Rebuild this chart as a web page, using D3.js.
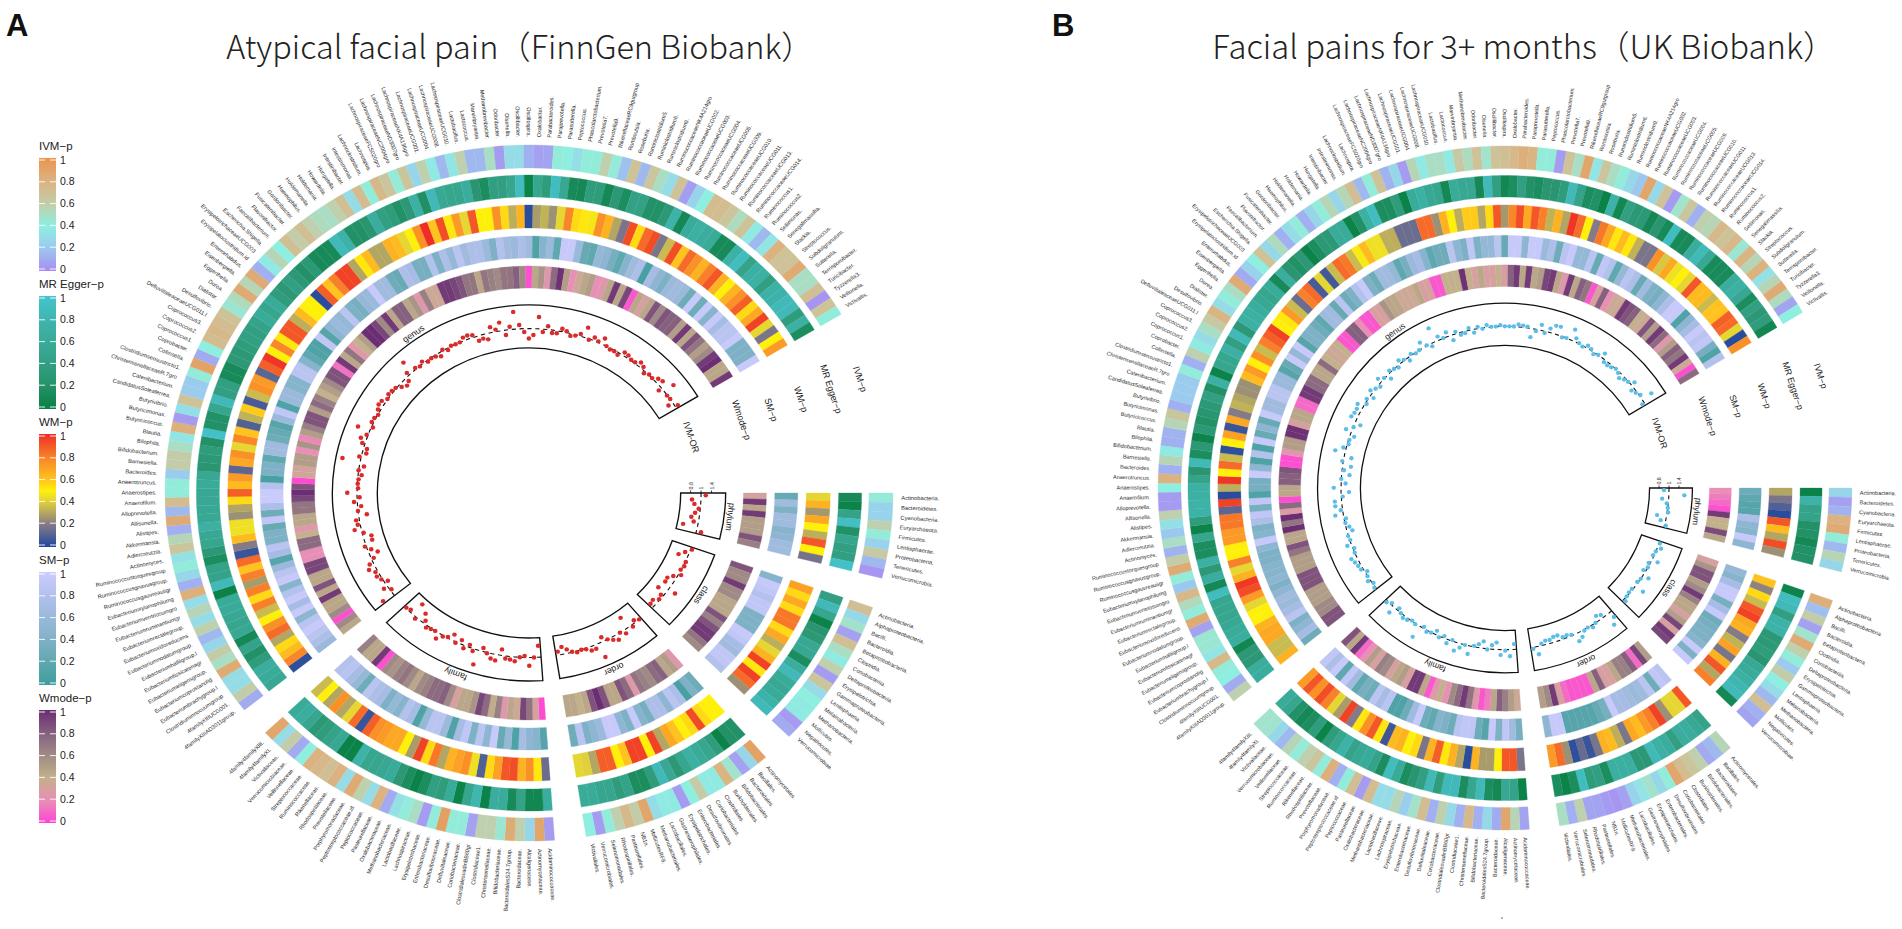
<!DOCTYPE html>
<html><head><meta charset="utf-8">
<script src="https://cdnjs.cloudflare.com/ajax/libs/d3/7.8.5/d3.min.js"></script>
<style>html,body{margin:0;padding:0;background:#fff}svg{display:block}text{font-family:"Liberation Sans",Arial,sans-serif}</style>
</head><body><svg id="c" width="1902" height="929"></svg>
<script>
const phylumNames=["Actinobacteria.","Bacteroidetes.","Cyanobacteria.","Euryarchaeota.","Firmicutes.","Lentisphaerae.","Proteobacteria.","Tenericutes.","Verrucomicrobia."];
const classNames=["Actinobacteria.","Alphaproteobacteria.","Bacilli.","Bacteroidia.","Betaproteobacteria.","Clostridia.","Coriobacteriia.","Deltaproteobacteria.","Erysipelotrichia.","Gammaproteobacteria.","Lentisphaeria.","Melainabacteria.","Methanobacteria.","Mollicutes.","Negativicutes.","Verrucomicrobiae."];
const orderNames=["Actinomycetales.","Bacillales.","Bacteroidales.","Bifidobacteriales.","Burkholderiales.","Clostridiales.","Coriobacteriales.","Desulfovibrionales.","Enterobacteriales.","Erysipelotrichales.","Gastranaerophilales.","Lactobacillales.","Methanobacteriales.","MollicutesRF9.","NB1n.","Pasteurellales.","Rhodospirillales.","Selenomonadales.","Verrucomicrobiales.","Victivallales."];
const familyNames=["Acidaminococcaceae.","Actinomycetaceae.","Alcaligenaceae.","Bacteroidaceae.","BacteroidalesS24.7group.","Bifidobacteriaceae.","Christensenellaceae.","Clostridiaceae1.","ClostridialesvadinBB60gr","Coriobacteriaceae.","Defluviitaleaceae.","Desulfovibrionaceae.","Enterobacteriaceae.","Erysipelotrichaceae.","Lachnospiraceae.","Lactobacillaceae.","Methanobacteriaceae.","Oxalobacteraceae.","Pasteurellaceae.","Peptococcaceae.","Peptostreptococcaceae.id","Porphyromonadaceae.","Prevotellaceae.","Rhodospirillaceae.","Rikenellaceae.","Ruminococcaceae.","Streptococcaceae.","Veillonellaceae.","Verrucomicrobiaceae.","Victivallaceae.","4family4familyXI.","4family4familyXIII."];
const genusNames=["4familyXIIIAD3011group.","4familyXIIIUCG001.","Clostridiuminnocuumgroup","Eubacteriumbrachygroup.l","Eubacteriumcoprostanolig","Eubacteriumeligensgroup.","Eubacteriumfissicatenagr","Eubacteriumhalliigroup.l","Eubacteriumnodatumgroup.","Eubacteriumoxidoreducens","Eubacteriumrectalegroup.","Eubacteriumruminantiumgr","Eubacteriumventriosumgro","Eubacteriumxylanophilumg","Ruminococcusgauvreauiigr","Ruminococcusgnavusgroup.","Ruminococcustorquesgroup","Actinomyces.","Adlercreutzia.","Akkermansia.","Alistipes.","Allisonella.","Alloprevotella.","Anaerofilum.","Anaerostipes.","Anaerotruncus.","Bacteroides.","Barnesiella.","Bifidobacterium.","Bilophila.","Blautia.","Butyricicoccus.","Butyricimonas.","Butyrivibrio.","CandidatusSoleaferrea.","Catenibacterium.","ChristensenellaceaeR.7gro","Clostridiumsensustricto1.","Collinsella.","Coprobacter.","Coprococcus1.","Coprococcus2.","Coprococcus3.","DefluviitaleaceaeUCG011.l","Desulfovibrio.","Dialister.","Dorea.","Eggerthella.","Eisenbergiella.","Enterorhabdus.","Erysipelatoclostridium.id","ErysipelotrichaceaeUCG003","Escherichia.Shigella.","Faecalibacterium.","Flavonifractor.","Fusicatenibacter.","Gordonibacter.","Haemophilus.","Holdemanella.","Holdemania.","Howardella.","Hungatella.","Intestinibacter.","Intestinimonas.","Lachnoclostridium.","Lachnospira.","LachnospiraceaeFCS020gro","LachnospiraceaeNC2004gro","LachnospiraceaeND3007gro","LachnospiraceaeNK4A136gro","LachnospiraceaeUCG001.","LachnospiraceaeUCG004.","LachnospiraceaeUCG008.","LachnospiraceaeUCG010.","Lactobacillus.","Lactococcus.","Marvinbryantia.","Methanobrevibacter.","Odoribacter.","Olsenella.","Oscillibacter.","Oscillospira.","Oxalobacter.","Parabacteroides.","Paraprevotella.","Parasutterella.","Peptococcus.","Phascolarctobacterium.","Prevotella7.","Prevotella9.","RikenellaceaeRC9gutgroup","Romboutsia.","Roseburia.","Ruminiclostridium5.","Ruminiclostridium6.","Ruminiclostridium9.","RuminococcaceaeNK4A214gro","RuminococcaceaeUCG002.","RuminococcaceaeUCG003.","RuminococcaceaeUCG004.","RuminococcaceaeUCG005.","RuminococcaceaeUCG009.","RuminococcaceaeUCG010.","RuminococcaceaeUCG011.","RuminococcaceaeUCG013.","RuminococcaceaeUCG014.","Ruminococcus1.","Ruminococcus2.","Sellimonas.","Senegalimassilia.","Slackia.","Streptococcus.","Subdoligranulum.","Sutterella.","Terrisporobacter.","Turicibacter.","Tyzzerella3.","Veillonella.","Victivallis."];
const sectorLabels=["phylum","class","order","family","genus"];
const ringLabels=["IVM-OR","Wmode−p","SM−p","WM−p","MR Egger−p","IVM−p"];
const legendTitles=["IVM−p","MR Egger−p","WM−p","SM−p","Wmode−p"];
const legendTicks=[0,0.2,0.4,0.6,0.8,1];
const orTicks=[0.8,1,1.4];
const titleA="Atypical facial pain（FinnGen Biobank）";
const titleB="Facial pains for 3+ months（UK Biobank）";

// every ring: phylum / class / order / family / genus, reading clockwise
const ivmA=[.43,.25,.25,.58,.42,.25,.62,.15,.03,
.7,.28,.48,.07,.7,.5,.38,.58,.05,.65,.3,.4,.38,.38,.05,.1,
.9,.27,.07,.47,.78,.38,.38,.6,.4,.05,.38,.38,.3,.88,.6,.75,.58,.42,.05,.4,
.05,.88,.27,.58,.85,.45,.58,.58,.07,.42,.42,.92,.42,.05,.5,.42,.33,.1,.8,.3,.58,.85,.3,.8,.7,.75,.8,.4,.1,.6,.3,.88,
.1,.6,.3,.3,.85,.5,.6,.27,.15,.58,
.3,.55,.3,.82,.12,.28,.42,.33,.65,.55,
.12,.85,.15,.72,.42,.42,.22,.6,.6,.5,
.35,.82,.05,.32,.68,.22,.22,.42,.9,.1,
.4,.72,.75,.72,.68,.45,.52,.85,.55,.85,
.12,.37,.55,.4,.7,.6,.7,.58,.52,.5,
.58,.7,.3,.72,.42,.75,.65,.43,.65,.27,
.58,.37,.15,.35,.58,.15,.15,.5,.05,.3,
.3,.12,.07,.08,.42,.4,.32,.42,.42,.58,
.43,.18,.68,.15,.65,.5,.3,.68,.06,.25,
.4,.72,.72,.65,.52,.68,.37,.15,.35,.8,
.68,.68,.85,.5,.5,.7,.03,.68,.42];
const eggerA=[.12,.03,.45,.92,.2,.5,.4,.4,.95,
.4,.85,.5,.03,.25,.3,.55,.55,.15,.65,.85,.6,.55,.6,.75,.85,
.2,.2,.02,.35,.5,.6,.7,.5,.3,.55,.85,.35,.15,.15,.45,.35,.5,.5,.6,.6,
.65,.08,.08,.45,.12,.6,.65,.02,.8,.5,.03,.6,.35,.4,.15,.02,.15,.3,.6,.55,.5,.5,.75,.02,.02,.55,.45,.35,.3,.5,.65,.6,
.55,.6,.65,.35,.2,.45,.1,.55,.5,.55,
.6,.6,.02,.85,.45,.45,.15,.3,.5,.55,
.7,.55,.55,.55,.55,.6,.55,.25,.3,.35,
.2,.95,.2,.2,.5,.85,.4,.4,.12,.12,
.3,.3,.35,.4,.4,.45,.6,.5,.6,.35,
.3,.4,.3,.2,.3,.12,.12,.12,.85,.75,
.2,.2,.25,.65,.4,.35,.2,.3,.7,.18,
.85,.55,.5,.5,.65,.25,.15,.38,.4,.5,
.9,.03,.5,.35,.9,.55,.12,.1,.35,.35,
.1,.3,.15,.42,.42,.2,.2,.3,.75,.1,
.6,.7,.65,.6,.12,.12,.72,.9,.45,.7,
.7,.4,.72,.75,.85,.85,.35,.7,.15];
const wmA=[.42,.65,.27,.68,.5,.32,.9,.5,.17,
.7,.55,.68,.55,.82,.82,.55,.68,.32,.42,.65,.95,.52,.95,.85,.25,
.5,.5,.55,.93,.55,.5,.6,.68,.3,.95,.5,.95,.95,.6,.5,.88,.88,.3,.4,.42,
.15,.52,.75,.65,.92,.9,.7,.55,.1,.45,.75,.7,.65,.3,.82,.55,.95,.28,.5,.68,.68,.72,.75,.88,.05,.85,.42,.3,.75,.3,.5,.35,
.03,.78,.62,.55,.3,.85,.75,.5,.35,.8,
.55,.8,.28,.8,.6,.85,.05,.2,.62,.45,
.45,.25,.3,.55,.88,.62,.72,.12,.68,.75,
.42,.78,.6,.1,.33,.58,.08,.35,.75,.72,
.12,.88,.98,.5,.78,.52,.9,.9,.32,.62,
.5,.5,.02,.88,.6,.8,.95,.95,.3,.52,
.62,.3,.3,.65,.62,.42,.5,.75,1,.6,
.92,.52,.72,.42,.9,.5,.5,.75,.55,.32,
.65,.02,.28,.33,.25,.42,.78,.55,.52,.47,
.75,.65,.3,.18,.92,.55,.85,.92,.18,.35,
.92,.6,.85,.75,.65,.8,.9,.65,.5,.65,
.75,.88,.55,.68,.95,.42,.18,.5,.72];
const smA=[.25,.65,.4,.65,.65,.45,.5,.65,.65,
.45,.95,.9,.8,.9,.9,.4,.4,.4,.95,.9,.7,.65,.9,.9,.8,
.3,.4,.05,.75,.85,.5,.75,.75,.35,.45,.95,.4,.5,.95,.95,.6,.5,.4,.85,.3,
.15,.45,.5,.7,.08,.55,.25,.95,.5,.85,.4,.9,.7,.1,.6,.85,.85,.55,.1,.7,.8,.45,.55,.4,.7,.75,.85,.3,.55,.7,.85,.8,
.6,.75,.85,.95,.85,.5,.95,.7,.95,.8,
.45,.95,.85,.6,.15,.7,.85,.4,.4,.25,
.9,.3,.75,.98,.98,.8,.05,.4,.4,.2,
.65,.65,.3,.25,.15,.6,.9,.1,.6,.6,
.45,.45,.85,.85,.45,.2,.1,.1,.9,.15,
.5,.6,.55,.85,.4,.35,.55,.6,.95,.65,
.65,.3,.25,.75,.7,.35,.35,.8,.4,.75,
.55,.85,.65,.75,.75,.6,.4,.8,.65,.6,
.75,.65,.1,.45,.6,.2,.95,.95,.6,.25,
.2,.55,.5,.35,.2,.45,.65,.75,.05,.7,
.5,.4,.6,.65,.6,.3,.95,.3,.95,.45,
.95,.7,.85,.85,.95,.4,.4,.4,.95];
const wmodeA=[.32,.95,.45,.95,.5,.5,.5,.85,.65,
.85,.6,.6,.95,.6,.6,.45,.45,.45,.85,.65,.85,.95,.95,.7,.6,
.25,.5,.45,.8,.75,.6,.65,.7,.25,.75,.85,.45,.45,.85,1,.85,.45,.4,.45,.45,
.02,.3,.7,.9,.35,.45,.25,.65,.42,.75,.9,.55,.45,.45,.3,.6,.8,.75,.75,.65,.6,.45,.6,.7,.65,.55,.6,.03,.95,.45,.45,.65,
.45,.6,.03,.6,.45,.45,.95,.45,.85,.45,
.45,.9,.9,.2,.2,.75,.75,.4,.25,.45,
.45,.7,.7,.9,1,.85,.02,.33,.33,.5,
.5,.2,.55,.18,.5,.65,.85,.85,.5,.75,
.65,.4,.5,.6,.85,.85,.12,.95,.45,.7,
.25,.4,.5,1,1,.9,.6,.95,.45,.8,
.8,.45,.55,.25,.65,.35,.35,.95,.95,.9,
.85,.7,.7,.45,.7,.65,.6,.7,.7,.8,
.6,.03,.45,.55,.25,.75,.98,.5,.2,.35,
.45,.5,.2,.25,.45,.95,.45,.9,.05,.45,
.3,.45,.85,.6,.85,.8,.8,.5,.95,.45,
.85,.7,.5,.6,.95,1,.45,.45,.95];
const orA=[1.18,.83,.88,.97,.91,.85,.91,.72,1.18,
1.05,.92,.82,1.02,1.04,.99,1.1,.93,.85,.86,1.3,.82,.95,.98,.9,.92,
1.0,.95,1.08,.76,1.15,1.0,1.22,1.12,1.0,.91,1.6,1.16,1.16,1.04,1.0,1.05,.99,.92,.85,.93,
.77,1,1.33,.97,1,1.17,1.12,1.1,.88,1.24,1.2,1.03,.93,1.6,1.1,.95,1.12,.92,1.04,.88,.98,1.04,1.24,1,1.03,1.09,.94,.83,1.07,.73,.96,.99,
1.48,.97,1.16,.93,1.04,1.13,1.09,1.27,1.15,.95,
.83,.93,1.05,.85,.84,.97,1.25,1.09,1.12,.84,
1.0,.93,1.12,.95,1.37,.98,.99,.98,.93,1.0,
.91,1.69,1.07,.92,.93,1.1,1.22,1.05,1.48,.97,
1.07,1.05,.99,1.09,1.17,1.15,1.01,1.09,1.07,1.03,
.94,.88,.92,1.12,1.51,1.05,.99,1.08,.97,.99,
.97,.92,1.04,.96,1.02,1.0,1.0,1.13,1.15,1.09,
.9,.92,.88,1.22,1.08,1.33,.9,1.11,1.69,1.15,
.93,.8,.87,1.47,.94,1.13,.94,.95,1.11,1.05,
.95,.98,1.08,1.41,.98,1.13,1.04,1.25,1.0,.97,
.98,.95,1.13,1.11,1.03,1.04,1.17,1.1,.96,1.02,
1.0,1.15,1.21,.93,1.43,.99,1.0,.9,1.11];

const ivmB=[.27,.07,.13,.8,.85,.42,.15,.55,.27,
.82,.17,.6,.07,.47,.85,.58,.42,.22,.6,.4,.3,.15,.7,.12,.08,
.55,.15,.1,.58,.65,.72,.88,.42,.27,.48,.35,.25,.07,.03,.05,.08,.08,.58,.12,.5,
.08,.55,.88,.1,.28,.12,.75,.12,.28,.58,.12,.72,.48,.23,.55,.3,.3,.72,.05,.7,.42,.12,.82,.42,.65,.58,.42,.55,.15,.28,.47,.47,
.58,.1,.4,.42,.75,.35,.45,.45,.07,.85,
.42,.52,.75,.2,.42,.85,.6,.13,.5,.2,
.32,.58,.05,.05,.4,.8,.12,.55,.37,.12,
.13,.55,.65,.12,.22,.22,.22,.42,.12,.58,
.38,.3,.5,.62,.78,.3,.42,.5,.85,.1,
.25,.4,.68,.28,.52,.12,.3,.42,.12,.27,
.42,.55,.27,.55,.7,.15,.42,.68,.13,.27,
.05,.55,.37,.5,.5,.37,.62,.52,.68,.47,
.68,.7,.75,.82,.78,.42,.42,.05,.68,.5,
.88,.35,.65,.5,.42,.28,.2,.88,.28,.68,
.05,.47,.65,.12,.58,.55,.75,.68,.75,.45,
.78,.55,.8,.33,.55,.85,.52,.08,.4];
const eggerB=[.02,.75,.45,.45,.2,.2,.1,.2,.2,
.05,.9,.85,.4,.75,.75,.3,.3,.35,.25,.55,.6,.7,.8,.85,.1,
.45,.55,.65,.65,.4,.65,.7,.85,.3,.3,.68,.68,.68,.15,.4,.35,.9,.15,.03,.15,
.02,.45,.55,.1,.15,.85,.5,.15,.85,.85,.35,.85,.4,.25,.15,.6,.9,.15,.45,.6,.55,.45,.75,.5,.35,.03,.35,.15,.1,.2,.5,.6,
.65,.65,.3,.3,.08,.65,.6,.55,.5,.5,
.5,.9,.1,.65,.3,.7,.15,.15,.5,.03,
.35,.75,.75,.7,.7,.45,.25,.85,.15,.3,
.05,.3,.2,.25,.3,.4,.2,.7,.03,.5,
.5,.7,.4,.85,.3,.7,.7,.65,.55,.5,
.6,.12,.65,.25,.2,.3,.03,.15,.3,.3,
.6,.6,.03,.2,.7,.9,.15,.15,.35,.02,
.6,.7,.55,.5,.1,.6,.55,.55,.1,.85,
.4,.08,.15,.4,.2,.15,.25,.25,.35,.85,
.45,.15,.2,.02,.75,.08,.4,.3,.3,.1,
.25,.12,.9,.12,.12,.65,.85,.55,.13,.13,
.13,.65,.7,.55,.15,.4,.3,.35,.08];
const wmB=[.3,.18,.1,.02,.9,.62,.3,.92,.25,
.6,.22,.55,.35,.9,.95,.68,.65,.2,.33,.7,.18,.65,.9,.3,.8,
.9,.42,.42,.25,.95,.8,.72,.62,.68,.18,.32,.62,.65,.18,.05,.14,.03,.25,.85,.72,
.18,.9,.9,.5,.28,.28,.65,.02,.3,.65,.52,.88,.65,.18,.55,.5,.65,.62,.06,.52,.9,.75,.52,.2,.95,.28,.42,.8,.92,.75,.9,.72,
.65,.35,.35,.68,.68,.65,.5,.5,.42,.72,
.92,.97,.65,.42,.8,.5,.5,.72,.72,.82,
.82,.12,.95,.02,.32,.98,.5,.85,.35,.03,
.5,.7,.05,.68,.2,.33,.3,.25,.25,.62,
.72,.5,.75,.35,.8,.88,.95,.5,.52,.72,
.35,.15,.8,.85,.08,.42,.07,.35,.85,.82,
.35,.48,.62,.45,.45,.32,.32,.15,.15,.15,
.85,.85,.25,.65,.5,.32,.58,.58,.3,.55,
.9,.27,.78,.92,.68,.9,.8,.33,.65,.3,
.98,.85,.5,.2,.82,.68,.52,.62,.52,.33,
.18,.18,.75,.38,.68,.45,.5,.42,.9,.62,
.62,.35,.6,.6,.88,.85,.42,.02,.75];
const smB=[.3,.2,.15,.15,.75,.5,.45,.95,.5,
.55,.45,.7,.95,.95,.35,.7,.95,.3,.35,.4,.4,.45,.95,.4,.95,
.85,.9,.3,.85,.65,.6,.65,.7,.7,.95,.35,.25,.15,.15,.15,.15,.15,.95,.95,.5,
.35,.65,.9,.4,.95,.15,.3,.9,.9,.85,.3,.4,.45,.2,.3,.95,.65,.3,.1,.1,.85,.7,.85,.3,.35,.2,.65,.9,.2,.95,.75,.9,
.3,.7,.5,.4,.85,.7,.6,.65,.5,.4,
.5,.45,.45,.4,.4,.5,.95,.45,.4,.75,
.9,.35,.9,.1,.35,.35,.98,.5,.1,.8,
.1,.95,.25,.5,.25,.95,.65,.65,.85,.85,
.6,.6,.15,.25,.95,.55,.95,.15,.4,.4,
.3,.2,.65,.65,.25,.85,.3,.4,.8,.95,
.4,.3,.65,.65,.55,.2,.35,.6,.7,.45,
.2,.3,.3,.85,.5,.4,.9,.4,.55,.55,
.85,.25,.95,.95,.5,.95,.95,.6,.75,.3,
.85,.95,.55,.55,.85,.25,.9,.8,.2,.55,
.85,.75,.25,.65,.4,.35,.5,.75,.95,.95,
.1,.5,.7,.95,.85,.9,.35,.1,.8];
const wmodeB=[.2,.15,.1,.03,.95,.4,.4,.88,.45,
.3,.55,.85,.85,.5,.6,.95,.65,.45,.45,.3,.5,.9,.3,.95,.9,
.5,.9,.1,.8,.65,.65,.45,.3,.3,.8,.45,.05,.05,.05,.05,.1,.3,.95,.6,.5,
.35,.5,.65,.8,.45,.15,.05,.25,.7,.95,.75,.6,.2,.4,.25,.05,.45,.95,.95,.3,.5,.45,.3,.6,.65,.3,.5,.2,.1,.95,.45,.85,
.85,.85,.6,.6,.5,.5,.5,.85,.85,.85,
.5,.5,.5,.7,.85,.45,.45,1,.7,1,
.28,.75,.02,.45,.45,.8,.8,.85,.03,.03,
.25,.5,.5,.98,.98,.3,.45,.45,.1,.1,
.95,.95,.75,.75,.45,.45,.75,.4,.35,.35,
.4,.05,.05,.8,.8,.2,.05,.05,.3,.3,
.55,.45,.45,.35,.35,.35,.45,.3,.3,.05,
.05,.4,.4,.4,.98,.4,.3,.45,.3,.3,
.4,.28,.8,.95,.45,.95,.45,.5,.9,.95,
.45,.25,.95,.45,.8,.7,.05,.3,.8,.2,
.35,.35,.95,.85,.8,.4,.35,.85,.5,.95,
.75,.25,.5,.8,.7,.95,.35,.03,.75];
const orB=[.9,1.62,.87,.97,1.0,1.04,.81,.9,1.05,
1.03,1.15,1.0,.98,1.25,.97,1.0,.95,1.25,1.0,.98,1.38,.98,.98,1.0,1.1,
1.25,1.5,.93,.89,1,1.1,1,1.04,1.23,1.33,.98,.95,.96,.89,.89,.93,.92,.96,1.32,1.07,
.89,1.27,1.04,1.22,.86,.92,1.03,.86,.93,.98,1.34,1.01,1.17,1.35,.98,1.16,.96,1.05,.92,1.01,1.07,.97,1.52,1.03,.99,1.07,1.11,1.01,.95,1.29,.97,1.07,
1.05,.98,1.1,1.0,.95,1.08,1.11,1.16,1.23,1.0,
.97,1.17,.99,1.01,.89,.93,.99,.96,1.32,1.07,
1.27,1.27,.97,.84,1.29,.91,1.0,.84,.96,.83,
1.04,.85,1.4,1.11,.97,.98,.91,1.23,.99,.88,
1.24,1.19,1.18,1.25,.97,1.05,.92,1.12,1.0,.95,
1.18,1.02,.9,1.08,1.0,.96,1.14,1.03,.93,1.06,
.98,1.0,1.25,1.02,.94,1.6,1.15,1,1.18,.89,
1.08,.95,.96,1.09,.93,1.07,.98,1.09,1,1,
1.05,1,1,1,1.1,1.07,1.05,.82,.96,1.22,
.96,1.16,1.33,1.35,.98,1,1.45,1.15,1.02,.98,
1.1,1.05,.96,1.0,1.2,.95,.94,.96,1,.97,
.91,.96,.99,1.16,.93,.97,1.04,1.44,.95];

const svg=d3.select("#c");
const defs=svg.append("defs");
const names=[phylumNames,classNames,orderNames,familyNames,genusNames];
const palette={
 ivm:d3.scaleLinear().domain([0,.2,.4,.6,.8,1]).range(["#A88CF2","#9CC8EE","#8EEFE0","#C3CCA8","#DCB280","#E9944E"]),
 egger:d3.scaleLinear().domain([0,.25,.5,.75,1]).range(["#078044","#2A9570","#37A68F","#3DB2A8","#46C4CF"]),
 wm:d3.scaleLinear().domain([0,.2,.4,.5,.6,.8,1]).range(["#1F479F","#857A88","#E0D03C","#FFF009","#FFC21F","#F8802A","#EE2D24"]),
 sm:d3.scaleLinear().domain([0,.25,.5,.75,1]).range(["#3F9E9E","#67AAB4","#8EB6D2","#ADBEE8","#CCCCFF"]),
 wmode:d3.scaleLinear().domain([0,.2,.4,.6,.8,1]).range(["#FF45D5","#E88FB5","#C3B08C","#A08A85","#85607F","#6B2D73"])
};
const ringKeys=["wmode","sm","wm","egger","ivm"];
const radii=[[205,227],[235,257],[265,288],[296,318],[325,348]];
const stepDeg=1.577, gapDeg=5;
// OR axis (0.8 / 1 / 1.4 as printed)
const orScale=d3.scaleLinear().domain(orTicks).range([154.5,164.5,174.5]);
const rad=d=>d*Math.PI/180;

function drawChart(o){
 const g=svg.append("g").attr("transform",`translate(${o.cx},${o.cy}) scale(${o.sx},${o.sy})`);
 let a=90, k=0; const sectors=[];
 names.forEach((n,i)=>{sectors.push({i,first:k,n:n.length,start:a,end:a+n.length*stepDeg});a+=n.length*stepDeg+gapDeg;k+=n.length;});
 const rings=[o.wmode,o.sm,o.wm,o.egger,o.ivm];
 sectors.forEach(s=>{
  const th=d3.scaleLinear().domain([0,s.n]).range([s.start,s.end]);
  rings.forEach((vals,r)=>{
   const arc=d3.arc().innerRadius(radii[r][0]).outerRadius(radii[r][1]);
   const col=palette[ringKeys[r]];
   g.append("g").selectAll("path").data(d3.range(s.n)).join("path")
    .attr("d",j=>arc({startAngle:rad(th(j)),endAngle:rad(th(j+1))}))
    .attr("fill",j=>col(vals[s.first+j])).attr("stroke",j=>col(vals[s.first+j])).attr("stroke-width",.3);
  });
  // labels
  g.append("g").selectAll("text").data(names[s.i]).join("text")
   .attr("font-size",5.5).attr("fill","#2a2a2a").attr("dy","0.35em")
   .attr("text-anchor",(d,j)=>{const t=th(j+.5)%360;return t<180?"start":"end";})
   .attr("transform",(d,j)=>{const t=th(j+.5)%360;return t<180?`rotate(${t-90}) translate(356,0)`:`rotate(${t+90}) translate(-356,0)`;})
   .text(d=>d);
  // OR track
  const box=d3.arc().innerRadius(145).outerRadius(188);
  g.append("path").attr("d",box({startAngle:rad(s.start),endAngle:rad(s.end)})).attr("fill","none").attr("stroke","#111").attr("stroke-width",1.3);
  const line=d3.lineRadial().angle(d=>rad(d)).radius(orScale(1));
  g.append("path").attr("d",line(d3.range(0,41).map(q=>s.start+(s.end-s.start)*q/40))).attr("fill","none").attr("stroke","#111").attr("stroke-width",1.1).attr("stroke-dasharray","4,3.5");
  g.append("g").selectAll("circle").data(d3.range(s.n)).join("circle")
   .attr("cx",j=>orScale(o.or[s.first+j])*Math.sin(rad(th(j+.5))))
   .attr("cy",j=>-orScale(o.or[s.first+j])*Math.cos(rad(th(j+.5))))
   .attr("r",2.2).attr("fill",o.dot);
  const mid=(s.start+s.end)/2;
  g.append("text").attr("font-size",8.6).attr("fill","#222").attr("text-anchor","middle")
   .attr("transform",`rotate(${mid}) translate(0,-191)`).text(sectorLabels[s.i]);
 });
 // axis on the phylum sector
 const axis=g.append("g");
 orTicks.forEach(t=>{
  const r=orScale(t);
  axis.append("line").attr("x1",r).attr("x2",r).attr("y1",0).attr("y2",-2.5).attr("stroke","#111").attr("stroke-width",.8);
  axis.append("text").attr("font-size",5.4).attr("fill","#333").attr("dy","0.35em")
   .attr("transform",`translate(${r},-3.5) rotate(-90)`).text(t);
 });
 // ring names in the wide gap
 const gapAngle=70.2, ringR=[165,...radii.map(d=>(d[0]+d[1])/2)];
 ringLabels.forEach((t,i)=>{
  g.append("text").attr("font-size",9).attr("fill","#222").attr("text-anchor","middle").attr("dy","0.35em")
   .attr("transform",`rotate(${gapAngle}) translate(0,${-ringR[i]}) rotate(2)`).text(t);
 });
 svg.append("text").attr("x",o.tx).attr("y",59).attr("text-anchor","middle")
   .style("font-family",'"Noto Sans CJK SC",sans-serif').style("font-weight",300).attr("font-size",o.tf).attr("fill","#222").text(o.title);
}
drawChart({cx:529,cy:493,sx:1.046,sy:1,ivm:ivmA,egger:eggerA,wm:wmA,sm:smA,wmode:wmodeA,or:orA,dot:"#D92B2B",title:titleA,tx:520,tf:32.4});
drawChart({cx:1505,cy:488,sx:.997,sy:.983,ivm:ivmB,egger:eggerB,wm:wmB,sm:smB,wmode:wmodeB,or:orB,dot:"#5CBDE6",title:titleB,tx:1524,tf:32.8});

// panel letters
[["A",6],["B",1052]].forEach(d=>svg.append("text").attr("x",d[1]).attr("y",36).attr("font-size",31).attr("font-weight",700).attr("fill","#111").text(d[0]));

// legends
legendTitles.forEach((t,k)=>{
 const key=["ivm","egger","wm","sm","wmode"][k], dy=138*k, col=palette[key];
 const y=d3.scaleLinear().domain([0,1]).range([269+dy,160+dy]);
 const id="lg"+k, gr=defs.append("linearGradient").attr("id",id).attr("x1",0).attr("x2",0).attr("y1",1).attr("y2",0);
 d3.range(0,1.001,.05).forEach(v=>gr.append("stop").attr("offset",v).attr("stop-color",col(v)));
 svg.append("rect").attr("x",39).attr("y",y(1)-2).attr("width",17).attr("height",y(0)-y(1)+4).attr("fill",`url(#${id})`);
 svg.append("text").attr("x",39).attr("y",150+dy).attr("font-size",11.5).attr("fill","#222").text(t);
 legendTicks.forEach(v=>{
  [[39,45],[50,56]].forEach(p=>svg.append("line").attr("x1",p[0]).attr("x2",p[1]).attr("y1",y(v)).attr("y2",y(v)).attr("stroke","#fff").attr("stroke-width",.9));
  svg.append("text").attr("x",60).attr("y",y(v)).attr("dy","0.35em").attr("font-size",10.5).attr("fill","#222").text(v);
 });
});
svg.append("circle").attr("cx",1502).attr("cy",918).attr("r",1).attr("fill","#999");
</script></body></html>
